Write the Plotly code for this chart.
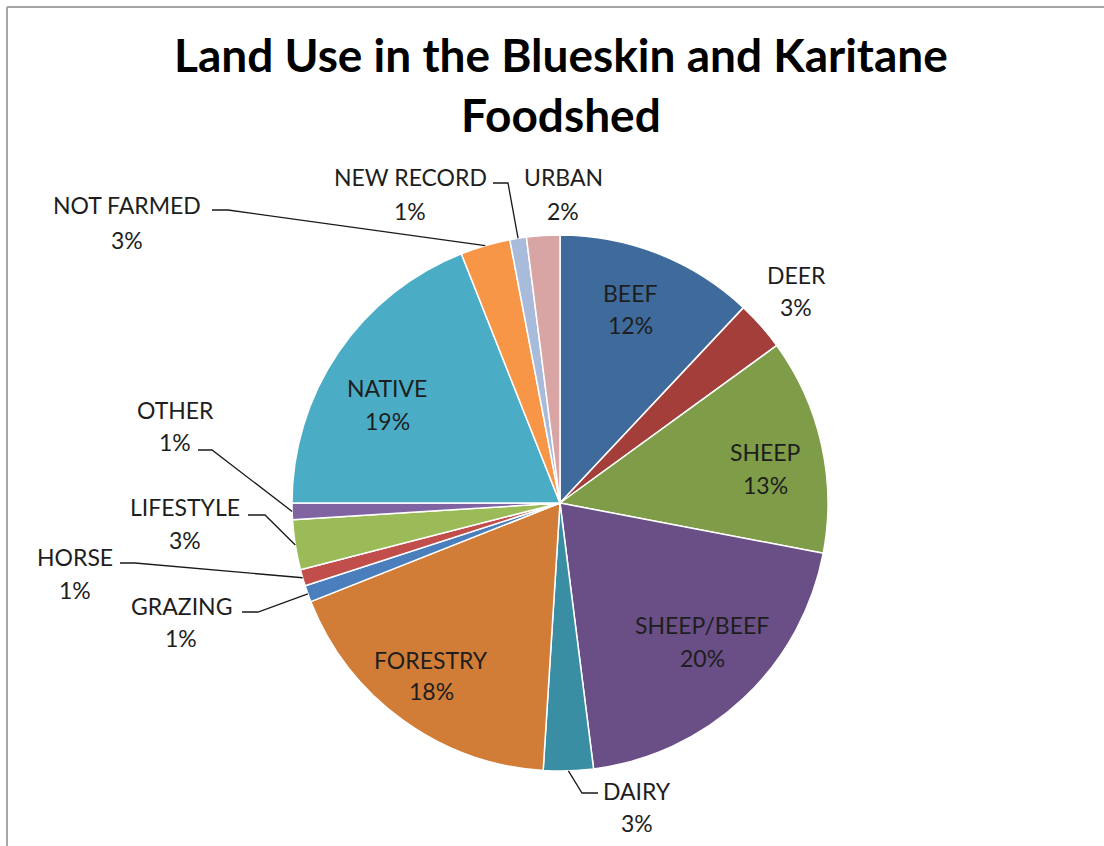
import math
import plotly.graph_objects as go

# Land-use categories and their share of the foodshed (%), clockwise from 12 o'clock
categories = ["BEEF", "DEER", "SHEEP", "SHEEP/BEEF", "DAIRY", "FORESTRY", "GRAZING",
              "HORSE", "LIFESTYLE", "OTHER", "NATIVE", "NOT FARMED", "NEW RECORD", "URBAN"]
shares = [12, 3, 13, 20, 3, 18, 1, 1, 3, 1, 19, 3, 1, 2]

colors = ["#3F6A9C", "#A33E3B", "#7F9C48", "#6A4E86", "#3A8EA4", "#D17D37", "#4A7EBD",
          "#C24E4C", "#9BBB59", "#8064A2", "#4BACC6", "#F79646", "#A9BBDB", "#D9A5A4"]

W, H = 1104, 846
CX, CY, R = 560, 503, 268  # pie centre and radius in pixels

# Label placement (pixel centres of the name line and the percent line)
label_pos = {
    "BEEF": (630, 293, 325), "DEER": (796, 275, 307), "SHEEP": (765, 452, 485),
    "SHEEP/BEEF": (702, 625, 658), "DAIRY": (637, 791, 823), "FORESTRY": (431, 660, 691),
    "GRAZING": (181, 606, 638), "HORSE": (75, 557, 590), "LIFESTYLE": (185, 507, 540),
    "OTHER": (175, 410, 442), "NATIVE": (387, 388, 421), "NOT FARMED": (127, 205, 240),
    "NEW RECORD": (410, 177, 211), "URBAN": (563, 177, 211),
}
# Leader lines: start near the label, elbow, then to the slice edge
leaders = {
    "NOT FARMED": [(212, 210), (228, 210)],
    "NEW RECORD": [(493, 183), (508, 183)],
    "OTHER": [(198, 450), (212, 450)],
    "LIFESTYLE": [(248, 515), (265, 515)],
    "HORSE": [(120, 563), (135, 563)],
    "GRAZING": [(242, 612), (258, 612)],
    "DAIRY": [(598, 793), (582, 793)],
}


def px(x):
    return x / W


def py(y):
    return 1 - y / H


fig = go.Figure(go.Pie(
    labels=categories, values=shares, sort=False, direction="clockwise", rotation=0,
    marker=dict(colors=colors, line=dict(color="white", width=1.5)),
    textinfo="none", hoverinfo="label+percent", showlegend=False,
    domain=dict(x=[px(CX - R), px(CX + R)], y=[py(CY + R), py(CY - R)]),
))

font_family = "Lato, 'Open Sans', sans-serif"
annotations = []
total = sum(shares)
for name, val in zip(categories, shares):
    x, y1, y2 = label_pos[name]
    pct = f"{round(100 * val / total)}%"
    for txt, yy in ((name, y1), (pct, y2)):
        annotations.append(dict(x=px(x), y=py(yy), xref="paper", yref="paper", text=txt,
                                showarrow=False, xanchor="center", yanchor="middle",
                                font=dict(family=font_family, size=23, color="#1e1e1e")))

annotations.append(dict(x=px(561), y=py(84), xref="paper", yref="paper",
                        text="<b>Land Use in the Blueskin and Karitane<br>Foodshed</b>",
                        showarrow=False, xanchor="center", yanchor="middle",
                        font=dict(family=font_family, size=46, color="black")))

shapes = []
cum = 0
mid_angle = {}
for name, val in zip(categories, shares):
    mid_angle[name] = (cum + val / 2) / total * 2 * math.pi
    cum += val
for name, pts in leaders.items():
    a = mid_angle[name]
    end = (CX + R * math.sin(a), CY - R * math.cos(a))
    path_pts = pts + [end]
    d = "M " + " L ".join(f"{px(x):.5f},{py(y):.5f}" for x, y in path_pts)
    shapes.append(dict(type="path", path=d, xref="paper", yref="paper",
                       line=dict(color="#1a1a1a", width=1.3)))

# Chart frame
shapes.append(dict(type="line", xref="paper", yref="paper", x0=px(7), y0=py(7), x1=1.0, y1=py(7),
                   line=dict(color="#A6A6A6", width=2)))
shapes.append(dict(type="line", xref="paper", yref="paper", x0=px(7), y0=py(7), x1=px(7), y1=0,
                   line=dict(color="#A6A6A6", width=2)))

fig.update_layout(width=W, height=H, margin=dict(l=0, r=0, t=0, b=0),
                  paper_bgcolor="white", plot_bgcolor="white",
                  annotations=annotations, shapes=shapes)
fig.write_html("out.html")
